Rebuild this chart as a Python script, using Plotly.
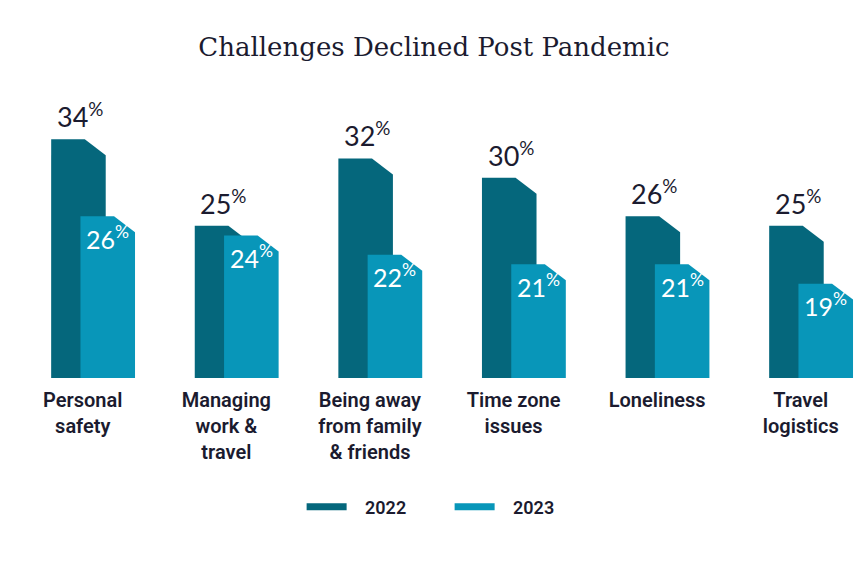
import plotly.graph_objects as go

# ---- data ----
categories = ["Personal<br>safety", "Managing<br>work &<br>travel", "Being away<br>from family<br>& friends",
              "Time zone<br>issues", "Loneliness", "Travel<br>logistics"]
values_2022 = [34, 25, 32, 30, 26, 25]
values_2023 = [26, 24, 22, 21, 21, 19]
series_names = ["2022", "2023"]

# ---- styling / geometry ----
C2022 = "#05677c"
C2023 = "#0896b9"
TXT = "#1b1b2f"
Y_MIN, Y_MAX = 9.2, 38.07
BAR_W = 0.38
OFF_2022 = -0.29
OFF_2023 = -0.086
CHAMF_X = 0.146
CHAMF_Y = 1.66
NBSP = "\u00a0"


def bar_poly(xc, v):
    x0, x1 = xc, xc + BAR_W
    xs = [x0, x0, x1 - CHAMF_X, x1, x1, x0]
    ys = [Y_MIN, v, v, v - CHAMF_Y, Y_MIN, Y_MIN]
    return xs, ys


fig = go.Figure()
for vals, off, col in [(values_2022, OFF_2022, C2022), (values_2023, OFF_2023, C2023)]:
    for i, v in enumerate(vals):
        xs, ys = bar_poly(i + off, v)
        fig.add_trace(go.Scatter(x=xs, y=ys, mode="lines", fill="toself", fillcolor=col,
                                 line=dict(width=0, color=col), showlegend=False, hoverinfo="skip"))

# legend entries
for name, col in zip(series_names, [C2022, C2023]):
    fig.add_trace(go.Scatter(x=[None], y=[None], mode="lines", name=NBSP * 3 + name,
                             line=dict(color=col, width=7)))

# value labels
for i, v in enumerate(values_2022):
    fig.add_annotation(x=i + OFF_2022 + BAR_W / 2 + 0.01, y=v, text=f"{v}<sup>%</sup>",
                       showarrow=False, yanchor="bottom", yshift=4,
                       font=dict(family="Lato", size=27, color=TXT, weight=400))
for i, v in enumerate(values_2023):
    fig.add_annotation(x=i + OFF_2023 + BAR_W / 2, y=v, text=f"{v}<sup>%</sup>",
                       showarrow=False, yanchor="middle", yshift=-21,
                       font=dict(family="Lato", size=25, color="white", weight=400))

fig.update_layout(
    width=868, height=568,
    margin=dict(l=0, r=0, t=100, b=190),
    paper_bgcolor="white", plot_bgcolor="white",
    title=dict(text="Challenges Declined Post Pandemic", x=0.5, xanchor="center",
               y=1 - 47 / 568, yref="container", yanchor="middle",
               font=dict(family="DejaVu Serif", size=26, color=TXT, weight=300)),
    xaxis=dict(range=[-92.8 / 143.6, (868 - 92.8) / 143.6], showgrid=False, zeroline=False,
               showline=False, tickvals=[i - 0.07 for i in range(len(categories))],
               ticktext=categories, ticks="", ticklabelstandoff=8,
               tickfont=dict(family="Roboto", size=20, color=TXT, weight=600), fixedrange=True),
    yaxis=dict(range=[Y_MIN, Y_MAX], visible=False, fixedrange=True),
    legend=dict(orientation="h", x=0.518, xanchor="center", y=-0.464, yanchor="middle",
                font=dict(family="Roboto", size=18, color=TXT, weight=600),
                itemwidth=40, entrywidth=93, entrywidthmode="pixels"),
    showlegend=True,
)

fig.write_html("out.html", config={"displayModeBar": False},
               post_script="document.body.style.margin='0';")
